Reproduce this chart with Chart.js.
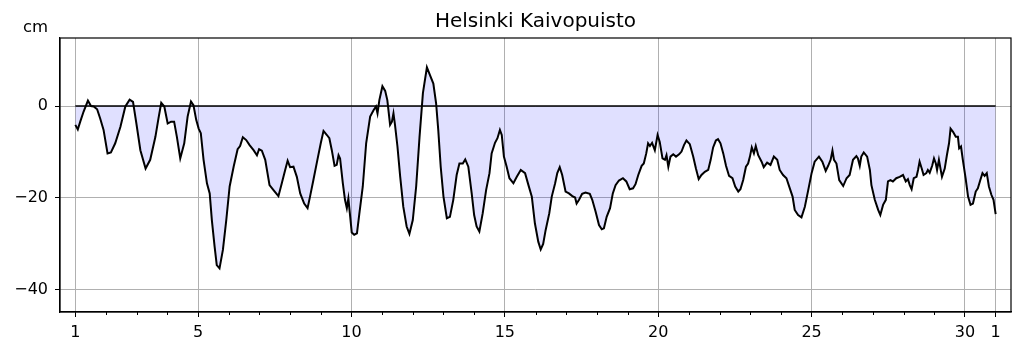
<!DOCTYPE html>
<html><head><meta charset="utf-8">
<script src="https://cdn.jsdelivr.net/npm/chart.js@4"></script>
<style>html,body{margin:0;padding:0;background:#fff}#wrap{width:1023px;height:352px;position:relative}</style>
</head><body><div id="wrap"><canvas id="c" width="1023" height="352"></canvas></div>
<script>
const titleText = 'Helsinki Kaivopuisto';
const unitLabel = 'cm';
// time in days since the 1st of the month, 00:00
const dayOffsets = [
0.00,0.08,0.16,0.27,0.41,0.51,0.60,0.71,0.81,0.92,1.05,1.16,1.30,1.47,1.63,1.77,1.88,1.99,2.12,2.29,2.44,2.61,2.71,2.80,2.90,3.01,3.12,3.22,3.31,3.42,3.55,3.66,
3.77,3.85,3.94,4.02,4.09,4.18,4.29,4.38,4.45,4.54,4.61,4.70,4.81,4.92,5.03,5.16,5.29,5.37,5.46,5.57,5.68,5.81,5.92,5.99,6.08,6.19,6.33,6.46,6.62,6.73,6.84,6.92,7.00,7.11,7.22,7.33,7.46,7.57,
7.65,7.76,7.89,8.00,8.09,8.20,8.28,8.36,8.45,8.52,8.58,8.63,8.72,8.79,8.85,8.90,8.96,9.01,9.09,9.18,9.26,9.37,9.48,9.61,9.72,9.80,9.85,9.91,10.01,10.10,10.17,10.26,10.32,10.37,10.42,10.50,10.59,10.69,10.80,10.89,11.00,11.11,11.22,11.33,
11.46,11.56,11.67,11.76,11.83,11.91,12.00,12.11,12.21,12.32,12.43,12.52,12.63,12.71,12.81,12.92,13.00,13.08,13.17,13.28,13.39,13.50,13.57,13.68,13.76,13.84,13.90,13.97,14.06,14.15,14.28,14.39,14.52,14.66,14.77,14.88,14.98,15.09,15.17,15.25,
15.33,15.45,15.53,15.64,15.71,15.79,15.87,15.98,16.09,16.20,16.29,16.34,16.42,16.52,16.63,16.77,16.85,16.96,17.07,17.16,17.23,17.32,17.43,17.52,17.61,17.72,17.85,17.96,18.07,18.18,18.26,18.35,18.46,18.53,18.61,18.67,18.73,18.80,18.89,18.98,19.05,
19.14,19.22,19.27,19.33,19.40,19.49,19.58,19.68,19.76,19.84,19.92,20.03,20.14,20.23,20.32,20.41,20.52,20.63,20.71,20.79,20.88,20.95,21.03,21.12,21.21,21.31,21.42,21.51,21.61,21.68,21.77,21.86,21.93,21.99,22.05,22.12,22.18,22.26,22.37,22.44,22.55,22.66,22.77,22.88,22.96,23.07,23.18,23.29,
23.38,23.45,23.56,23.67,23.78,23.89,24.00,24.10,24.24,24.35,24.46,24.54,24.62,24.68,24.73,24.81,24.90,25.03,25.14,25.24,25.35,25.46,25.51,25.57,25.62,25.70,25.81,25.90,25.95,26.06,26.17,26.24,26.33,26.42,26.49,26.57,26.65,26.76,26.87,26.98,27.07,27.14,
27.20,27.26,27.33,27.42,27.47,27.52,27.59,27.65,27.74,27.79,27.85,27.93,27.99,28.05,28.09,28.15,28.25,28.34,28.41,28.48,28.53,28.61,28.70,28.77,28.81,28.87,28.93,29.02,29.10,29.18,29.26,29.35,29.42,29.50,29.57,29.64,29.71,29.78,29.86,29.93,30.00
];
// sea level, cm
const levels = [
-4.1,-5.1,-3.4,-1.2,1.2,0.0,-0.1,-0.7,-2.7,-5.2,-10.3,-10.1,-8.1,-4.5,-0.1,1.4,0.9,-3.8,-9.6,-13.6,-11.7,-6.7,-2.7,0.7,-0.1,-3.8,-3.4,-3.4,-6.7,-11.4,-8.1,-2.3,
1.0,0.2,-3.0,-4.9,-5.9,-11.7,-16.8,-19.0,-24.8,-30.6,-34.6,-35.3,-31.3,-24.8,-17.5,-13.2,-9.4,-8.7,-6.8,-7.4,-8.5,-9.6,-10.7,-9.4,-9.7,-11.7,-17.2,-18.3,-19.6,-16.8,-13.9,-11.9,-13.3,-13.2,-15.4,-19.0,-21.2,-22.2,
-19.7,-16.1,-11.7,-8.1,-5.4,-6.3,-7.0,-9.6,-13.0,-12.8,-10.7,-11.4,-16.8,-20.4,-22.2,-20.1,-24.1,-27.5,-28.0,-27.7,-23.3,-17.5,-8.1,-2.3,-0.9,-0.1,-1.6,1.3,4.3,3.3,1.3,-4.1,-3.4,-1.6,-4.1,-8.8,-15.4,-21.9,-26.2,-27.8,-24.8,-17.5,-6.7,2.8,
8.4,6.7,4.9,0.6,-5.2,-13.2,-19.7,-24.4,-24.1,-20.4,-15.0,-12.5,-12.5,-11.6,-13.2,-19.0,-23.7,-26.2,-27.3,-23.3,-18.3,-14.6,-10.3,-8.0,-7.0,-5.2,-6.3,-11.0,-13.2,-15.7,-16.8,-15.4,-13.9,-14.6,-17.2,-19.7,-25.5,-29.5,-31.2,-30.0,
-27.0,-23.3,-19.7,-16.8,-14.6,-13.3,-15.0,-18.6,-19.0,-19.6,-19.9,-21.2,-20.4,-19.1,-18.8,-19.1,-20.4,-23.0,-25.9,-26.8,-26.6,-24.1,-22.2,-19.0,-17.2,-16.2,-15.7,-16.4,-18.1,-17.9,-17.0,-15.0,-13.0,-12.5,-10.3,-8.1,-8.7,-8.0,-9.6,-6.3,-7.8,
-11.4,-11.7,-10.7,-13.2,-11.0,-10.5,-11.0,-10.5,-9.9,-8.5,-7.5,-8.3,-11.0,-13.6,-15.9,-15.0,-14.3,-13.9,-11.7,-9.0,-7.5,-7.2,-8.1,-10.3,-13.0,-15.2,-15.7,-17.5,-18.6,-18.1,-16.1,-13.2,-12.5,-11.0,-9.0,-10.3,-8.7,-10.7,-12.1,-13.3,-12.3,-12.8,-11.0,-11.7,-13.9,-15.0,-15.7,-17.9,
-19.7,-22.6,-23.7,-24.2,-21.9,-18.3,-14.6,-12.1,-11.0,-12.1,-14.1,-13.0,-11.7,-9.7,-11.7,-12.5,-16.1,-17.4,-15.7,-15.0,-11.7,-10.9,-11.4,-13.0,-11.0,-10.1,-11.0,-13.9,-17.2,-20.4,-22.6,-23.7,-21.5,-20.4,-16.4,-16.1,-16.4,-15.7,-15.4,-15.0,-16.4,-15.9,
-17.2,-18.1,-15.7,-15.4,-13.9,-12.1,-13.6,-15.0,-14.6,-13.9,-14.5,-13.0,-11.4,-12.5,-13.9,-11.7,-15.4,-13.6,-10.7,-8.1,-4.9,-5.6,-6.7,-6.7,-9.2,-8.8,-11.7,-15.7,-19.7,-21.5,-21.2,-18.6,-17.9,-16.1,-14.6,-15.2,-14.6,-17.5,-19.3,-20.4,-23.5
];
const xTickPositions = [0, 4, 9, 14, 19, 24, 29, 30];
const xTickLabels = ['1', '5', '10', '15', '20', '25', '30', '1'];
const yTickValues = [-40, -20, 0];
const referenceLevel = [{x: 0, y: 0}, {x: 30, y: 0}];

const FONT = 'DejaVu Sans';
const seriesPoints = dayOffsets.map((d, i) => ({x: d, y: levels[i]}));
const isMajorX = v => xTickPositions.includes(v);

const decor = {
  id: 'decor',
  afterDraw(chart) {
    const ctx = chart.ctx, a = chart.chartArea, xs = chart.scales.x;
    ctx.save();
    ctx.strokeStyle = '#000'; ctx.lineWidth = 1;
    for (let d = 0; d <= 30; d++) {
      if (isMajorX(d)) continue;
      const px = Math.round(xs.getPixelForValue(d)) + 0.5;
      ctx.beginPath(); ctx.moveTo(px, a.bottom); ctx.lineTo(px, a.bottom + 3); ctx.stroke();
    }
    ctx.strokeStyle = '#000'; ctx.lineWidth = 1.2;
    ctx.strokeRect(a.left, a.top, a.right - a.left, a.bottom - a.top);
    ctx.fillStyle = '#000';
    ctx.font = '20px "' + FONT + '"';
    ctx.textAlign = 'center'; ctx.textBaseline = 'alphabetic';
    ctx.fillText(titleText, (a.left + a.right) / 2, 27);
    ctx.font = '16.5px "' + FONT + '"';
    ctx.fillText(unitLabel, 35.5, 32);
    ctx.restore();
  }
};

new Chart(document.getElementById('c'), {
  type: 'line',
  data: {
    datasets: [
      {data: seriesPoints, borderColor: '#000', borderWidth: 2, pointRadius: 0,
       fill: 'origin', backgroundColor: 'rgba(0,0,255,0.12)', tension: 0},
      {data: referenceLevel, borderColor: '#000', borderWidth: 1.5, pointRadius: 0, fill: false}
    ]
  },
  options: {
    responsive: false, animation: false, devicePixelRatio: 1,
    layout: {padding: {top: 38, right: 12, left: 0, bottom: 0}},
    plugins: {legend: {display: false}, tooltip: {enabled: false}, title: {display: false},
              filler: {drawTime: 'beforeDatasetsDraw'}},
    scales: {
      x: {
        type: 'linear', min: -0.5, max: 30.5,
        afterBuildTicks: s => { s.ticks = Array.from({length: 31}, (_, i) => ({value: i})); },
        afterFit: s => { s.height = 40; },
        ticks: {autoSkip: false, maxRotation: 0, padding: 6, color: '#000',
                font: {family: FONT, size: 16},
                callback: v => { const k = xTickPositions.indexOf(v); return k >= 0 ? xTickLabels[k] : ''; }},
        grid: {color: c => (c.tick && isMajorX(c.tick.value)) ? '#b0b0b0' : 'rgba(0,0,0,0)',
               tickColor: c => (c.tick && isMajorX(c.tick.value)) ? '#000' : 'rgba(0,0,0,0)',
               lineWidth: 1, tickLength: 5, drawTicks: true},
        border: {display: true, color: '#000', width: 1.2}
      },
      y: {
        type: 'linear', min: -44.8, max: 14.8,
        afterBuildTicks: s => { s.ticks = yTickValues.map(v => ({value: v})); },
        afterFit: s => { s.width = 60; },
        ticks: {padding: 7, color: '#000', font: {family: FONT, size: 16},
                callback: v => String(v).replace('-', '\u2212')},
        grid: {color: '#b0b0b0', tickColor: '#000', lineWidth: 1, tickLength: 5},
        border: {display: true, color: '#000', width: 1.2}
      }
    }
  },
  plugins: [decor]
});
</script></body></html>
